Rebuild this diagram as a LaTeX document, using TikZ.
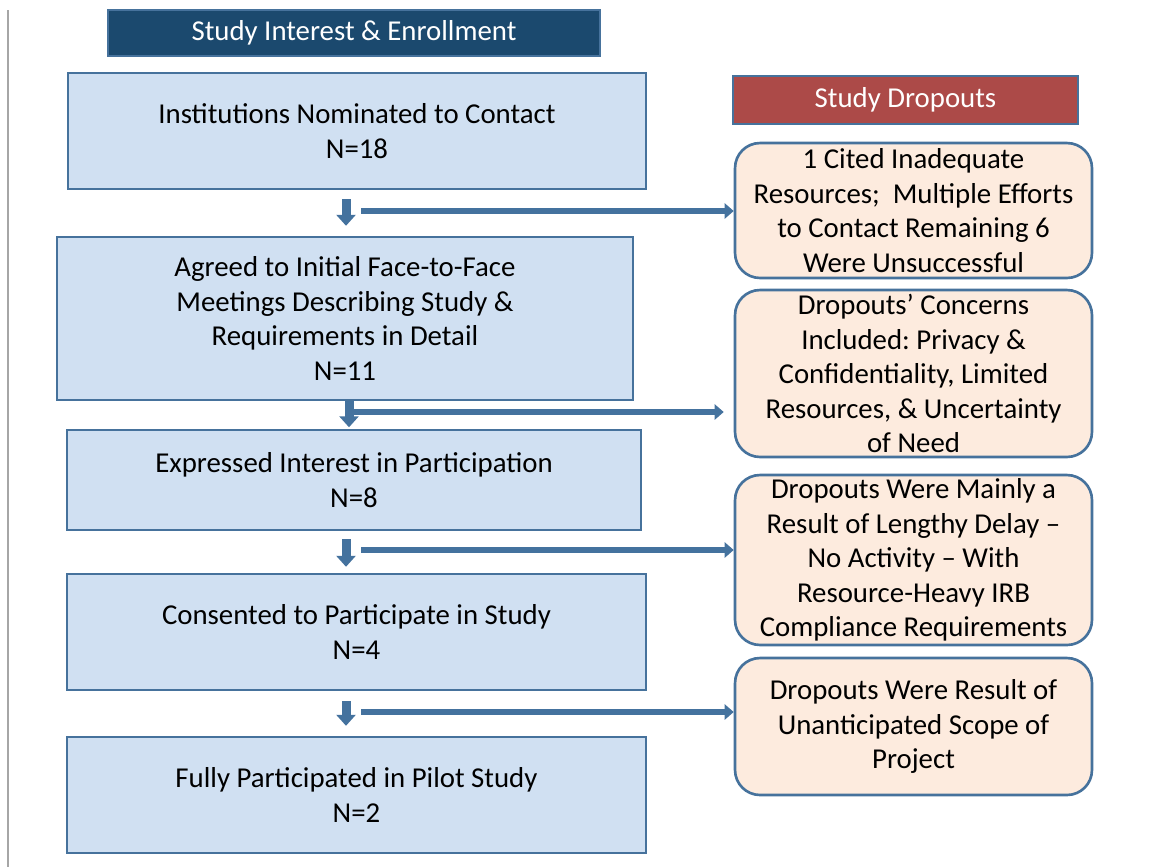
\documentclass[tikz,border=0pt]{standalone}
\usepackage{fontspec}
\setmainfont{Carlito}
\usepackage{xcolor}
\usepackage{tikz}
\usetikzlibrary{arrows.meta}
\usetikzlibrary{positioning}
\usetikzlibrary{calc}
\definecolor{headblue}{RGB}{27,73,110}
\definecolor{headred}{RGB}{172,74,72}
\definecolor{edgeblue}{RGB}{70,114,156}
\definecolor{boxfill}{RGB}{208,224,242}
\definecolor{dropfill}{RGB}{253,235,222}
\definecolor{arrowblue}{RGB}{68,114,158}
\frenchspacing
\tikzset{
  txt/.style = {align=center, inner sep=0pt, font=\fontsize{16.4pt}{19.6pt}\selectfont},
  headbox/.style = {txt, rectangle, text=white, draw=edgeblue, line width=1.2pt},% titres
  flowbox/.style = {txt, rectangle, draw=edgeblue, fill=boxfill, line width=1.4pt},% etapes
  dropbox/.style = {txt, rectangle, rounded corners=0.5cm, draw=edgeblue,
    fill=dropfill, line width=1.5pt},% abandons
  downarrow/.style = {-{Triangle[width=0.38cm,length=0.22cm]}, draw=arrowblue,
    line width=0.18cm},
  sidearrow/.style = {-{Triangle[width=0.3cm,length=0.18cm]}, draw=arrowblue,
    line width=0.11cm}
}

\begin{document}
\begin{tikzpicture}[x=0.02cm,y=-0.02cm]
\useasboundingbox (0,0) rectangle (1155,867);
\draw[gray!70, line width=0.6pt] (8,10) -- (8,867);

% column headers
\node [headbox, fill=headblue, minimum width=9.84cm, minimum height=0.92cm]
  (hdenrol) at (354,33) {Study Interest \& Enrollment};
\node [headbox, fill=headred, minimum width=6.9cm, minimum height=0.96cm]
  (hddrop) at (905.5,100) {Study Dropouts};

% enrollment steps
\node [flowbox, minimum width=11.56cm, minimum height=2.32cm] (b1) at (357,131)
  {Institutions Nominated to Contact\\N=18};
\node [flowbox, minimum width=11.52cm, minimum height=3.26cm] (b2) at (345,318.5)
  {Agreed to Initial Face-to-Face\\Meetings Describing Study \&\\Requirements in Detail\\N=11};
\node [flowbox, minimum width=11.48cm, minimum height=2cm] (b3) at (354,480)
  {Expressed Interest in Participation\\N=8};
\node [flowbox, minimum width=11.58cm, minimum height=2.32cm] (b4) at (356.5,632)
  {Consented to Participate in Study\\N=4};
\node [flowbox, minimum width=11.58cm, minimum height=2.32cm] (b5) at (356.5,795)
  {Fully Participated in Pilot Study\\N=2};

% dropouts
\node [dropbox, minimum width=7.14cm, minimum height=2.7cm] (d1) at (913.5,210.5)
  {1 Cited Inadequate\\Resources;~ Multiple Efforts\\to Contact Remaining 6\\Were Unsuccessful};
\node [dropbox, minimum width=7.14cm, minimum height=3.34cm] (d2) at (913.5,373.5)
  {Dropouts’ Concerns\\Included: Privacy \&\\Confidentiality, Limited\\Resources, \& Uncertainty\\of Need};
\node [dropbox, minimum width=7.14cm, minimum height=3.4cm] (d3) at (913.5,560)
  {Dropouts Were Mainly a\\Result of Lengthy Delay –\\No Activity – With\\Resource-Heavy IRB\\Compliance Requirements};
\node [dropbox, minimum width=7.14cm, minimum height=2.74cm] (d4) at (913.5,726.5)
  {Dropouts Were Result of\\Unanticipated Scope of\\Project};

% arrows down the enrollment column
\draw [downarrow, shorten <=0.18cm, shorten >=0.2cm] ($(b1.south)+(-11,0)$) -- ($(b2.north)+(1,0)$);
\draw [downarrow, shorten >=0.03cm] ($(b2.south)+(4,0)$) -- ($(b3.north)+(-5,0)$);
\draw [downarrow, shorten <=0.16cm, shorten >=0.12cm] ($(b3.south)+(-8,0)$) -- ($(b4.north)+(-10.5,0)$);
\draw [downarrow, shorten <=0.2cm, shorten >=0.2cm] ($(b4.south)+(-10.5,0)$) -- ($(b5.north)+(-10.5,0)$);

% arrows out to the dropouts
\coordinate (s1) at (361,211);
\coordinate (s2) at (349,412);
\coordinate (s3) at (361,550);
\coordinate (s4) at (361,712);
\draw [sidearrow] (s1) -- (s1 -| d1.west);
\draw [sidearrow, shorten >=0.2cm] (s2) -- (s2 -| d2.west);
\draw [sidearrow] (s3) -- (s3 -| d3.west);
\draw [sidearrow] (s4) -- (s4 -| d4.west);
\end{tikzpicture}
\end{document}
